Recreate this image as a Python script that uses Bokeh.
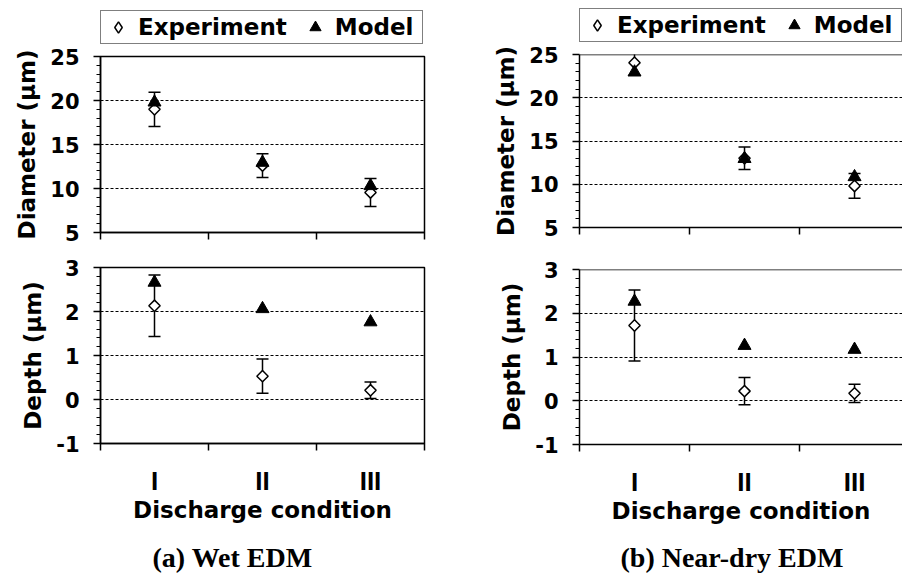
import numpy as np
from bokeh.plotting import figure
from bokeh.layouts import row, column
from bokeh.models import (ColumnDataSource, Whisker, TeeHead, FixedTicker,
                          Legend, LegendItem, Label, Span)
from bokeh.embed import file_html
from bokeh.resources import INLINE

# ---------------- data ----------------
conditions = ["I", "II", "III"]
cond_pos = [0.5, 1.5, 2.5]

# (a) Wet EDM
wet_diam_exp = [19.0, 12.6, 9.55]
wet_diam_err = [1.95, 1.35, 1.6]
wet_diam_model = [19.8, 12.95, 10.3]
wet_depth_exp = [2.13, 0.53, 0.21]
wet_depth_err = [0.70, 0.39, 0.19]
wet_depth_model = [2.66, 2.06, 1.76]

# (b) Near-dry EDM
dry_diam_exp = [24.05, 13.0, 9.8]
dry_diam_err = [1.45, 1.3, 1.43]
dry_diam_model = [22.95, 12.95, 10.85]
dry_depth_exp = [1.72, 0.22, 0.17]
dry_depth_err = [0.81, 0.31, 0.21]
dry_depth_model = [2.27, 1.26, 1.17]

diam_ticks = [5, 10, 15, 20, 25]
depth_ticks = [-1, 0, 1, 2, 3]
diam_label = "Diameter (μm)"
depth_label = "Depth (μm)"
x_label = "Discharge condition"
caption_a = "(a) Wet EDM"
caption_b = "(b) Near-dry EDM"
legend_labels = ["Experiment", "Model"]

SANS = "DejaVu Sans"


def blank_fig(width, height, bl, br):
    p = figure(width=width, height=height, x_range=(0, 1), y_range=(0, 1),
               output_backend="svg", toolbar_location=None,
               x_axis_type=None, y_axis_type=None,
               min_border_left=bl, min_border_right=br,
               min_border_top=0, min_border_bottom=0)
    p.outline_line_color = None
    p.grid.visible = False
    p.background_fill_color = "white"
    p.border_fill_color = "white"
    return p


def make_legend_fig(width, height, bl, br):
    p = blank_fig(width, height, bl, br)
    # one-row sources holding no position: only used for the legend swatches
    r_exp = p.scatter(x=[np.nan], y=[np.nan], marker="diamond", size=12,
                      fill_color="white", line_color="black", line_width=1.5)
    r_mod = p.scatter(x=[np.nan], y=[np.nan], marker="triangle", size=12,
                      fill_color="black", line_color="black", line_width=1)
    lg = Legend(items=[LegendItem(label=legend_labels[0], renderers=[r_exp]),
                       LegendItem(label=legend_labels[1], renderers=[r_mod])],
                orientation="horizontal", location=(0, 0), margin=0,
                padding=2, spacing=13, glyph_width=30, glyph_height=28,
                label_standoff=5, label_width=85, label_text_font=SANS,
                label_text_font_style="bold", label_text_font_size="23px",
                label_text_color="black",
                border_line_color="black", border_line_width=1.5,
                background_fill_color="white", background_fill_alpha=1)
    p.add_layout(lg)
    return p


def make_caption_fig(width, height, bl, br, text, x_left, y_mid):
    # x_left is measured from the left edge of the (column-aligned) frame
    p = blank_fig(width, height, bl, br)
    p.add_layout(Label(x=x_left, y=y_mid, x_units="screen", y_units="screen",
                       text=text, text_font="Liberation Serif",
                       text_font_style="bold", text_font_size="28px",
                       text_color="black", text_baseline="middle",
                       text_align="left"))
    return p


def make_panel(width, height, borders, x_end, y_ticks, y_minor, y_label,
               exp, err, model, closed_right, bottom):
    bl, br, bt, bb = borders
    p = figure(width=width, height=height, x_range=(0, x_end),
               y_range=(y_ticks[0], y_ticks[-1]),
               output_backend="svg", toolbar_location=None,
               min_border_left=bl, min_border_right=br,
               min_border_top=bt, min_border_bottom=bb)
    p.background_fill_color = "white"
    p.border_fill_color = "white"
    p.xgrid.visible = False
    p.ygrid.grid_line_color = "black"
    p.ygrid.grid_line_dash = "3 2"
    p.ygrid.grid_line_width = 1

    if closed_right:
        p.outline_line_color = "black"
        p.outline_line_width = 1.5
        p.outline_line_alpha = 1
    else:
        p.outline_line_color = None
        p.add_layout(Span(location=y_ticks[-1], dimension="width",
                          line_color="black", line_width=1.5))

    # y axis
    ya = p.yaxis[0]
    ya.ticker = FixedTicker(ticks=y_ticks, minor_ticks=y_minor)
    ya.major_label_overrides = {t: str(t) for t in y_ticks}
    ya.axis_line_width = 1.5
    ya.axis_line_color = "black"
    ya.major_tick_out = 7
    ya.major_tick_in = 0
    ya.minor_tick_out = 4
    ya.minor_tick_in = 0
    ya.major_tick_line_width = 1.5
    ya.minor_tick_line_width = 1.2
    ya.major_label_standoff = 14
    ya.major_label_text_font = SANS
    ya.major_label_text_font_style = "bold"
    ya.major_label_text_font_size = "21px"
    ya.major_label_text_color = "black"
    ya.axis_label = y_label
    ya.axis_label_text_font = SANS
    ya.axis_label_text_font_style = "bold"
    ya.axis_label_text_font_size = "23px"
    ya.axis_label_text_color = "black"
    ya.axis_label_standoff = 7

    # x axis
    xa = p.xaxis[0]
    xa.axis_line_width = 1.5
    xa.axis_line_color = "black"
    if bottom:
        xa.ticker = FixedTicker(ticks=cond_pos, minor_ticks=[0, 1, 2, 3])
        xa.major_label_overrides = {pos: lab for pos, lab in zip(cond_pos, conditions)}
        xa.major_tick_out = 0
        xa.major_tick_in = 0
        xa.minor_tick_out = 7
        xa.minor_tick_in = 0
        xa.minor_tick_line_width = 1.5
        xa.major_label_standoff = 15
        xa.major_label_text_font = "Liberation Sans"
        xa.major_label_text_font_style = "bold"
        xa.major_label_text_font_size = "26px"
        xa.major_label_text_color = "black"
        xa.axis_label = x_label
        xa.axis_label_text_font = SANS
        xa.axis_label_text_font_style = "bold"
        xa.axis_label_text_font_size = "23px"
        xa.axis_label_text_color = "black"
        xa.axis_label_standoff = -2
    else:
        xa.ticker = FixedTicker(ticks=[0, 1, 2, 3])
        xa.major_tick_out = 7
        xa.major_tick_in = 0
        xa.major_tick_line_width = 1.5
        xa.major_label_standoff = 0
        xa.major_label_text_font_size = "1px"
        xa.major_label_text_color = None

    src = ColumnDataSource(dict(
        x=cond_pos, exp=exp, model=model,
        upper=[e + d for e, d in zip(exp, err)],
        lower=[e - d for e, d in zip(exp, err)],
    ))
    wh = Whisker(base="x", upper="upper", lower="lower", source=src,
                 line_color="black", line_width=1.5, level="underlay",
                 upper_head=TeeHead(size=12, line_width=1.5, line_color="black"),
                 lower_head=TeeHead(size=12, line_width=1.5, line_color="black"))
    p.add_layout(wh)
    p.scatter("x", "exp", source=src, marker="square", angle=np.pi / 4,
              size=8, fill_color="white", line_color="black", line_width=1.5)
    p.scatter("x", "model", source=src, marker="triangle", size=13,
              fill_color="black", line_color="black", line_width=1)
    return p


diam_minor = [v for v in range(5, 26) if v % 5]
depth_minor = [round(v, 1) for v in np.arange(-1, 3.01, 0.2) if abs(v - round(v)) > 1e-6]

# left column: (a) Wet EDM
leg_l = make_legend_fig(451, 44, 100, 27)
lt = make_panel(451, 206, (100, 27, 12, 18), 3.0, diam_ticks, diam_minor, diam_label,
                wet_diam_exp, wet_diam_err, wet_diam_model, True, False)
lb = make_panel(451, 288, (100, 27, 17, 95), 3.0, depth_ticks, depth_minor, depth_label,
                wet_depth_exp, wet_depth_err, wet_depth_model, True, True)
cap_l = make_caption_fig(451, 40, 100, 27, caption_a, 52, 21)

# right column: (b) Near-dry EDM
leg_r = make_legend_fig(451, 42, 128, 0)
rt = make_panel(451, 208, (128, 0, 12, 23), 2.936, diam_ticks, diam_minor, diam_label,
                dry_diam_exp, dry_diam_err, dry_diam_model, False, False)
rb = make_panel(451, 288, (128, 0, 19, 94), 2.936, depth_ticks, depth_minor, depth_label,
                dry_depth_exp, dry_depth_err, dry_depth_model, False, True)
cap_r = make_caption_fig(451, 40, 128, 0, caption_b, 41, 21)

page = row(column(leg_l, lt, lb, cap_l), column(leg_r, rt, rb, cap_r))
open("out.html", "w").write(file_html(page, INLINE))
